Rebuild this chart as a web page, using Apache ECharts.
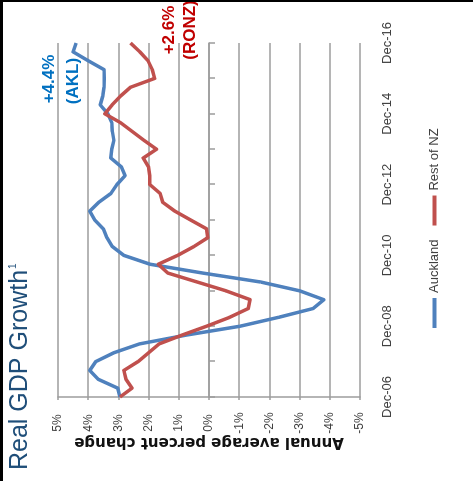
<!DOCTYPE html>
<html>
<head>
<meta charset="utf-8">
<script src="https://cdn.jsdelivr.net/npm/echarts@6/dist/echarts.min.js"></script>
<style>
  html, body { margin: 0; padding: 0; background: #fff; overflow: hidden; }
  #wrap { position: absolute; left: 0; top: 0; width: 473px; height: 481px; overflow: hidden; }
  /* the chart is laid out landscape and turned a quarter turn to read upward */
  #chart { position: absolute; left: 0; top: 0; width: 481px; height: 473px;
           transform-origin: 0 0; transform: translateY(481px) rotate(-90deg); background: #fff; }
</style>
</head>
<body>
<div id="wrap"><div id="chart"></div></div>
<script>
// Quarterly periods, Dec-06 .. Dec-16
const quarters = [
  'Dec-06','Mar-07','Jun-07','Sep-07','Dec-07','Mar-08','Jun-08','Sep-08',
  'Dec-08','Mar-09','Jun-09','Sep-09','Dec-09','Mar-10','Jun-10','Sep-10',
  'Dec-10','Mar-11','Jun-11','Sep-11','Dec-11','Mar-12','Jun-12','Sep-12',
  'Dec-12','Mar-13','Jun-13','Sep-13','Dec-13','Mar-14','Jun-14','Sep-14',
  'Dec-14','Mar-15','Jun-15','Sep-15','Dec-15','Mar-16','Jun-16','Sep-16',
  'Dec-16'
];

// Annual average real GDP growth, %
const auckland = [
  2.95, 3.02, 3.67, 3.95, 3.75, 3.15, 2.3, 0.75,
  -1.03, -2.3, -3.45, -3.8, -3.0, -1.7, 0.2, 1.95,
  2.82, 3.2, 3.38, 3.5, 3.78, 3.95, 3.65, 3.25,
  3.05, 2.78, 2.9, 3.25, 3.22, 3.15, 3.2, 3.22,
  3.35, 3.6, 3.52, 3.48, 3.47, 3.48, 4.0, 4.5,
  4.4
];
const restOfNZ = [
  2.95, 2.55, 2.75, 2.82, 2.35, 2.0, 1.65, 0.89,
  0.08, -0.68, -1.3, -1.36, -0.56, 0.4, 1.36, 1.68,
  1.04, 0.5, 0.04, 0.08, 0.61, 1.13, 1.53, 1.62,
  1.96, 1.96, 2.0, 2.18, 1.74, 2.15, 2.54, 2.93,
  3.45, 3.21, 2.93, 2.6, 1.8, 1.88, 2.02, 2.29,
  2.6
];

const seriesNames = ['Auckland', 'Rest of NZ'];
const seriesTags = ['AKL', 'RONZ'];

const valueMin = -5, valueMax = 5, valueStep = 1;

const BLUE = '#4F81BD', RED = '#C0504D';
const GRID_GREY = '#9C9C9C';
const LABEL_FONT = '"Liberation Sans", Arial, sans-serif';

function endTag(values) {
  const v = values[values.length - 1];
  return (v >= 0 ? '+' : '') + v.toFixed(1) + '%';
}

const chart = echarts.init(document.getElementById('chart'), null, { renderer: 'canvas' });

const option = {
  backgroundColor: '#fff',
  animation: false,
  title: {
    text: '{t|Real GDP Growth}{s|1}',
    left: 11,
    top: 8,
    padding: 0,
    textStyle: {
      fontWeight: 'normal',
      rich: {
        t: { fontSize: 25, fontWeight: 'normal', fontFamily: '"Liberation Sans", Arial, sans-serif', color: '#1F4E79' },
        s: { fontSize: 10, fontWeight: 'normal', fontFamily: '"Liberation Sans", Arial, sans-serif', color: '#1F4E79', verticalAlign: 'top', padding: [0, 0, 10, 1] }
      }
    }
  },
  grid: { left: 84, right: 43, top: 58, bottom: 113, containLabel: false },
  legend: {
    data: seriesNames,
    left: 148,
    top: 423,
    icon: 'rect',
    itemWidth: 30,
    itemHeight: 4,
    itemGap: 14,
    textStyle: { fontSize: 13, fontFamily: LABEL_FONT, color: '#404040' }
  },
  xAxis: [
    {
      // zero line with yearly ticks
      type: 'category',
      data: quarters,
      boundaryGap: false,
      position: 'top',
      axisLine: { show: true, onZero: true, lineStyle: { color: GRID_GREY, width: 1.5 } },
      axisTick: { show: true, inside: true, length: 6, interval: 3, lineStyle: { color: GRID_GREY, width: 1.5 } },
      axisLabel: { show: false },
      splitLine: { show: false }
    },
    {
      // period labels along the bottom edge
      type: 'category',
      data: quarters,
      boundaryGap: false,
      position: 'bottom',
      axisLine: { show: false, onZero: false },
      axisTick: { show: false },
      axisLabel: {
        show: true, interval: 7, margin: 21,
        fontSize: 13, fontFamily: LABEL_FONT, color: '#404040'
      },
      splitLine: { show: false }
    }
  ],
  yAxis: {
    type: 'value',
    min: valueMin,
    max: valueMax,
    interval: valueStep,
    name: 'Annual average percent change',
    nameLocation: 'middle',
    nameRotate: 90,
    nameGap: 37,
    nameMoveOverlap: false,
    nameTextStyle: { fontSize: 15, fontWeight: 'bold', fontFamily: '"DejaVu Sans", sans-serif', color: '#111' },
    axisLine: { show: true, lineStyle: { color: GRID_GREY, width: 1.5 } },
    axisTick: { show: true, length: 3, lineStyle: { color: GRID_GREY, width: 1.5 } },
    axisLabel: {
      formatter: '{value}%', align: 'center', margin: 26,
      fontSize: 12, fontFamily: LABEL_FONT, color: '#404040'
    },
    splitLine: { show: true, lineStyle: { color: GRID_GREY, width: 1.5 } }
  },
  series: [
    {
      name: seriesNames[0], type: 'line', data: auckland, xAxisIndex: 0,
      symbol: 'none', color: BLUE, lineStyle: { width: 3.5, color: BLUE, join: 'round' }, z: 3
    },
    {
      name: seriesNames[1], type: 'line', data: restOfNZ, xAxisIndex: 0,
      symbol: 'none', color: RED, lineStyle: { width: 3.5, color: RED, join: 'round' }, z: 4
    }
  ],
  graphic: [
    { type: 'rect', shape: { x: 0, y: 0, width: 481, height: 3 }, style: { fill: '#000' }, z: 100 },
    { type: 'rect', shape: { x: 479, y: 0, width: 2, height: 473 }, style: { fill: '#000' }, z: 100 },
    { type: 'text', x: 402, y: 49, z: 50,
      style: { text: endTag(auckland), align: 'center', verticalAlign: 'middle',
               font: 'bold 17px "Liberation Sans", Arial, sans-serif', fill: '#0070C0' } },
    { type: 'text', x: 400, y: 73, z: 50,
      style: { text: '(' + seriesTags[0] + ')', align: 'center', verticalAlign: 'middle',
               font: 'bold 17px "Liberation Sans", Arial, sans-serif', fill: '#0070C0' } },
    { type: 'text', x: 451, y: 169, z: 50,
      style: { text: endTag(restOfNZ), align: 'center', verticalAlign: 'middle',
               font: 'bold 17px "Liberation Sans", Arial, sans-serif', fill: '#C00000' } },
    { type: 'text', x: 451, y: 190, z: 50,
      style: { text: '(' + seriesTags[1] + ')', align: 'center', verticalAlign: 'middle',
               font: 'bold 17px "Liberation Sans", Arial, sans-serif', fill: '#C00000' } }
  ]
};

chart.setOption(option);
</script>
</body>
</html>
